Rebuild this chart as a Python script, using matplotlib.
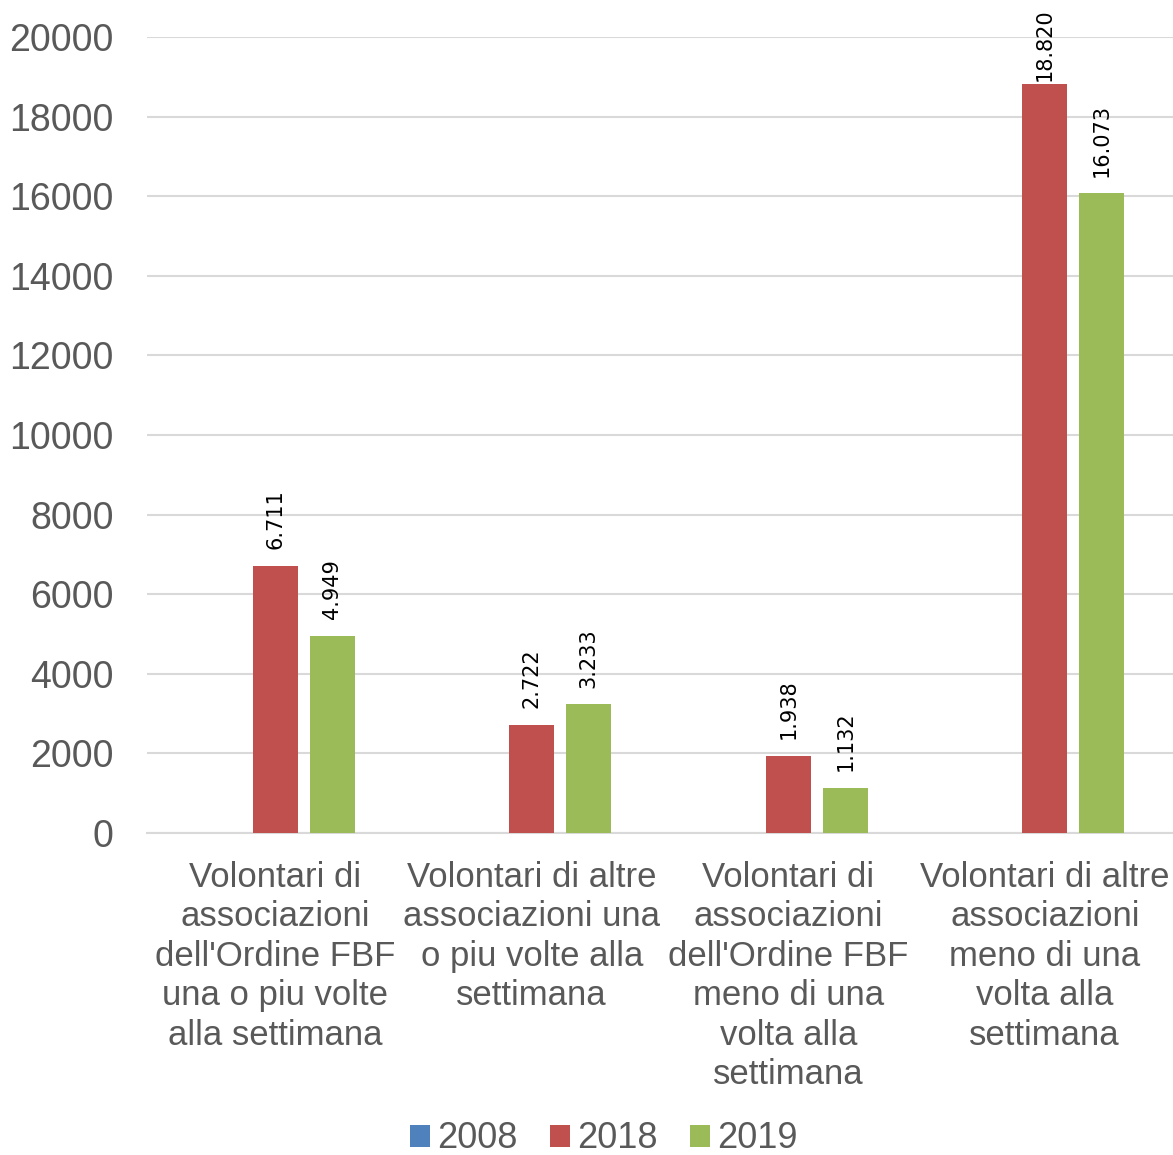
import matplotlib.pyplot as plt
import numpy as np

plt.rcParams["font.family"] = ["Liberation Sans", "DejaVu Sans"]

categories = [
    "Volontari di\nassociazioni\ndell'Ordine FBF\nuna o piu volte\nalla settimana",
    "Volontari di altre\nassociazioni una\no piu volte alla\nsettimana",
    "Volontari di\nassociazioni\ndell'Ordine FBF\nmeno di una\nvolta alla\nsettimana",
    "Volontari di altre\nassociazioni\nmeno di una\nvolta alla\nsettimana",
]
years = ["2008", "2018", "2019"]
values_2008 = [0, 0, 0, 0]
values_2018 = [6711, 2722, 1938, 18820]
values_2019 = [4949, 3233, 1132, 16073]
colors = ["#4f81bd", "#c0504d", "#9bbb59"]
yticks = [0, 2000, 4000, 6000, 8000, 10000, 12000, 14000, 16000, 18000, 20000]

text_gray = "#595959"
grid_gray = "#d9d9d9"

fig = plt.figure(figsize=(11.73, 11.55), dpi=100)
ax = fig.add_axes([147 / 1173, 322 / 1155, 1026 / 1173, 796 / 1155])
ymax = 20000
px_per_unit = 796 / ymax

x = np.arange(len(categories))
width = 0.175
step = 0.222
series = [values_2008, values_2018, values_2019]
for i, (year, vals, col) in enumerate(zip(years, series, colors)):
    bars = ax.bar(x + (i - 1) * step, vals, width, color=col, label=year, zorder=3)
    if year == "2008":
        continue
    for b, v in zip(bars, vals):
        lbl = f"{v:,}".replace(",", ".")
        # like Excel, pull the label down when it would leave the picture
        room = (ymax - v) * px_per_unit + 37 - 82
        off = max(2, min(12, room * 0.72))
        ax.annotate(lbl, (b.get_x() + b.get_width() / 2, v),
                    xytext=(0, off), textcoords="offset points",
                    rotation=90, ha="center", va="bottom",
                    fontsize=15, family=["DejaVu Sans"], color="black",
                    annotation_clip=False)

ax.set_xlim(-0.5, len(categories) - 0.5)
ax.set_ylim(0, ymax)
ax.set_yticks(yticks)
ax.set_yticklabels([str(t) for t in yticks])
ax.set_xticks(x)
ax.set_xticklabels(categories, linespacing=1.25)
ax.tick_params(axis="y", length=0, pad=24, labelsize=27, labelcolor=text_gray)
ax.tick_params(axis="x", length=0, pad=20, labelsize=25, labelcolor=text_gray)
ax.grid(axis="y", color=grid_gray, linewidth=1.5, zorder=0)
for s in ["left", "right", "top"]:
    ax.spines[s].set_visible(False)
ax.spines["bottom"].set_color(grid_gray)
ax.spines["bottom"].set_linewidth(1.5)

handles, labels = ax.get_legend_handles_labels()
fig.legend(handles, labels, loc="center", bbox_to_anchor=(604 / 1173, 16 / 1155),
           ncol=3, frameon=False, fontsize=26, labelcolor=text_gray,
           handlelength=0.55, handleheight=0.55, handletextpad=0.2,
           columnspacing=0.9, borderaxespad=0)

fig.savefig("out.png", dpi=100)
